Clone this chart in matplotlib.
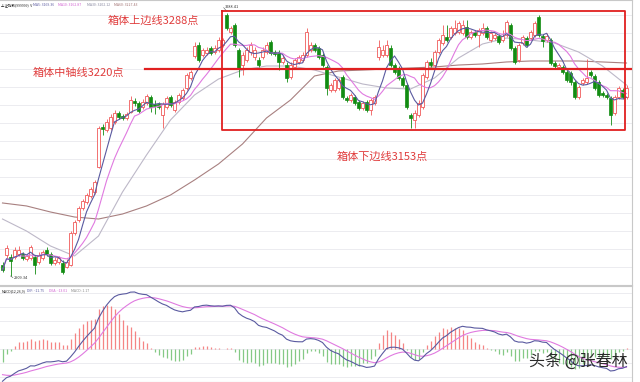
import numpy as np
import pandas as pd
import matplotlib
matplotlib.use("Agg")
import matplotlib.pyplot as plt
from matplotlib.patches import Rectangle

plt.rcParams['font.family'] = ['Noto Sans CJK SC', 'DejaVu Sans']

# ---------------- data (Shanghai Composite daily candles) ----------------
opens = [2925,2940,2937,2937,2941,2941,2934,2935,2937,2929,2935,2947,2941,2928,2929,2928,2922,2925,2971,2990,
         3007,3016,3025,3030,3066,3124,3120,3123,3131,3144,3140,3137,3146,3161,3159,3153,3159,3167,3157,3157,
         3141,3153,3167,3148,3160,3166,3180,3195,3226,3242,3228,3231,3238,3232,3235,3242,3286,3261,3271,3235,
         3213,3221,3232,3225,3221,3225,3232,3246,3232,3231,3218,3213,3196,3210,3218,3221,3228,3235,3242,3238,
         3228,3210,3177,3177,3180,3196,3166,3163,3167,3160,3151,3160,3148,3159,3225,3228,3228,3238,3213,3209,
         3195,3185,3141,3134,3141,3153,3196,3218,3213,3232,3245,3254,3254,3259,3261,3259,3268,3254,3261,3257,
         3259,3267,3249,3252,3255,3249,3257,3271,3238,3221,3245,3252,3252,3257,3283,3255,3249,3249,3216,3210,
         3210,3203,3202,3189,3167,3187,3189,3203,3197,3189,3173,3170,3166,3144,3167,3177,3167]
closes = [2918,2950,2931,2947,2947,2935,2938,2951,2925,2940,2944,2941,2928,2932,2935,2915,2929,2971,2987,3007,
          3017,3026,3035,3045,3123,3121,3131,3138,3144,3138,3137,3143,3163,3159,3147,3160,3169,3153,3154,3153,
          3157,3166,3156,3160,3170,3177,3199,3203,3241,3221,3235,3235,3231,3238,3249,3249,3267,3267,3242,3209,
          3228,3235,3242,3235,3213,3235,3242,3231,3229,3218,3223,3195,3213,3221,3225,3228,3261,3242,3235,3225,
          3213,3180,3185,3192,3192,3167,3163,3170,3159,3151,3159,3148,3163,3167,3239,3235,3242,3213,3203,3195,
          3185,3153,3137,3144,3159,3199,3218,3213,3232,3249,3257,3249,3267,3267,3274,3271,3254,3261,3257,3264,
          3267,3254,3259,3257,3246,3255,3275,3238,3218,3242,3254,3242,3261,3274,3257,3248,3255,3216,3212,3213,
          3203,3192,3189,3167,3182,3192,3195,3199,3180,3170,3170,3167,3141,3167,3180,3167,3180]
highs = [2929,2954,2941,2951,2952,2944,2941,2954,2940,2944,2947,2951,2944,2937,2938,2932,2934,2974,2990,3010,
         3020,3029,3038,3048,3125,3128,3136,3143,3148,3147,3143,3146,3169,3166,3161,3164,3172,3170,3163,3160,
         3160,3169,3170,3163,3173,3180,3202,3206,3246,3246,3238,3239,3241,3242,3254,3252,3288.41,3270,3274,3238,
         3232,3239,3246,3239,3225,3239,3246,3249,3235,3235,3228,3218,3218,3223,3228,3232,3267,3246,3245,3241,
         3231,3213,3187,3195,3195,3199,3169,3173,3170,3163,3161,3163,3166,3170,3249,3242,3249,3242,3216,3212,
         3197,3187,3144,3148,3163,3202,3221,3223,3235,3252,3271,3271,3270,3278,3277,3278,3278,3264,3264,3267,
         3274,3270,3262,3259,3258,3264,3278,3274,3241,3245,3257,3255,3264,3277,3285,3258,3259,3252,3219,3216,
         3213,3206,3205,3192,3185,3195,3222,3206,3200,3192,3176,3173,3169,3170,3183,3180,3185]
lows = [2915,2935,2909.34,2934,2938,2932,2931,2932,2912,2927,2932,2938,2925,2925,2927,2912,2921,2924,2968,2987,
        3004,3013,3022,3027,3065,3113,3117,3120,3128,3136,3134,3134,3144,3154,3144,3150,3156,3146,3143,3150,
        3123,3150,3153,3146,3157,3163,3177,3192,3223,3218,3225,3228,3228,3229,3232,3239,3264,3258,3239,3196,
        3199,3218,3228,3221,3210,3222,3229,3228,3226,3206,3215,3189,3193,3208,3215,3218,3225,3232,3232,3222,
        3210,3170,3174,3174,3177,3164,3160,3160,3156,3148,3148,3146,3141,3156,3221,3225,3225,3210,3200,3192,
        3182,3150,3123,3123,3138,3150,3193,3210,3210,3229,3242,3246,3251,3257,3258,3257,3251,3251,3254,3239,
        3257,3251,3246,3249,3244,3246,3254,3235,3215,3218,3242,3239,3249,3254,3254,3239,3246,3213,3209,3208,
        3200,3189,3185,3164,3164,3185,3186,3196,3177,3167,3167,3164,3127,3141,3164,3164,3164]

# slow moving averages, every 6th session
slow_idx = list(range(0, 157, 6))
ma30_vals = [2991.4,2974.1,2952.5,2938.1,2966.9,3030.3,3083.6,3134.1,3170.1,3193.1,3206.1,3211.9,3211.9,3206.1,
             3196.0,3186.0,3180.2,3178.7,3194.6,3223.4,3243.6,3252.2,3249.4,3245.0,3232.1,3211.9,3184.5]
ma60_vals = [3014.5,3010.2,3001.5,2994.3,2991.4,2998.6,3010.2,3026.0,3047.6,3070.7,3099.5,3137.0,3162.9,3197.5,
             3204.7,3206.1,3207.6,3209.0,3210.5,3213.3,3214.8,3217.7,3219.1,3219.1,3219.1,3217.7,3216.2]

# MACD state before the first visible session
seed_ema12 = 2940.0
seed_ema26 = 2970.0
seed_dea = -22.0

# box annotation (hand drawn on chart)
box_top, box_mid, box_bot = 3291.2, 3207.6, 3119.7
label_top, label_mid, label_bot = "箱体上边线3288点", "箱体中轴线3220点", "箱体下边线3153点"
hi_label, lo_label = "3288.41", "2909.34"

# ---------------- derived ----------------
o = np.array(opens, float); c = np.array(closes, float)
h = np.array(highs, float); l = np.array(lows, float)
n = len(c)
x = np.arange(n)
ma5 = pd.Series(c).rolling(5, min_periods=1).mean().values
ma10 = pd.Series(c).rolling(10, min_periods=1).mean().values

e12, e26, dea = seed_ema12, seed_ema26, seed_dea
dif_l, dea_l = [], []
for v in c:
    e12 = e12 * 11 / 13 + v * 2 / 13
    e26 = e26 * 25 / 27 + v * 2 / 27
    d = e12 - e26
    dea = dea * 8 / 10 + d * 2 / 10
    dif_l.append(d); dea_l.append(dea)
dif = np.array(dif_l); deaa = np.array(dea_l)
hist = 2 * (dif - deaa)

# ---------------- figure ----------------
fig = plt.figure(figsize=(6.4, 3.82), dpi=100)
fig.patch.set_facecolor('white')
ax = fig.add_axes([0, 1 - 285 / 382, 632 / 640, 285 / 382])
ax2 = fig.add_axes([0, 0, 632 / 640, 96 / 382])

xl = (-0.625, 157.375)
ylo, yhi = 2896.3, 3307.0
for a in (ax, ax2):
    a.set_xlim(*xl)
    a.set_xticks([])
    a.tick_params(left=False, labelleft=False, bottom=False)
    for s in a.spines.values():
        s.set_color('#c8c8c8'); s.set_linewidth(0.8)
    a.spines['left'].set_visible(False)
ax.set_ylim(ylo, yhi)

# grid
for gy in np.arange(3285.4, ylo, -25.95):
    ax.axhline(gy, color='#ececf0', lw=0.7, zorder=0)

RED = '#f05a5a'
GREEN = '#128c12'
w = 0.72
for i in range(n):
    up = c[i] >= o[i]
    col = RED if up else GREEN
    ax.vlines(x[i], l[i], h[i], color=col, lw=0.6, zorder=2)
    bot = min(o[i], c[i]); ht = max(abs(c[i] - o[i]), 0.8)
    if up:
        ax.add_patch(Rectangle((x[i] - w / 2, bot), w, ht, facecolor='white', edgecolor=RED, lw=0.6, zorder=3))
    else:
        ax.add_patch(Rectangle((x[i] - w / 2, bot), w, ht, facecolor=GREEN, edgecolor=GREEN, lw=0.5, zorder=3))

ax.plot(slow_idx, ma60_vals, color='#a88080', lw=0.8, zorder=1)
ax.plot(slow_idx, ma30_vals, color='#bdb8c8', lw=0.8, zorder=1)
ax.plot(x, ma10, color='#e07ae0', lw=0.8, zorder=4)
ax.plot(x, ma5, color='#5a5aa0', lw=0.8, zorder=4)

# box
BOX = '#e02020'
ax.plot([54.9, 155.6, 155.6, 54.9, 54.9], [box_top, box_top, box_bot, box_bot, box_top], color=BOX, lw=1.3, zorder=5)
ax.plot([35.6, 157.0], [box_mid, box_mid], color=BOX, lw=1.6, zorder=5)

ax.text(26.3, 3277, label_top, color='#e03c3c', fontsize=8, ha='left', va='center', zorder=6)
ax.text(7.6, 3202, label_mid, color='#e03c3c', fontsize=8, ha='left', va='center', zorder=6)
ax.text(83.6, 3081, label_bot, color='#e03c3c', fontsize=8, ha='left', va='center', zorder=6)

ax.plot([55.3, 56.0], [3296, 3291], color='#555555', lw=0.4)
ax.text(55.6, 3297, hi_label, color='#333333', fontsize=2.8, ha='left', va='center')
ax.plot([2.0, 2.6], [2909.34, 2907], color='#555555', lw=0.4)
ax.text(2.8, 2907, lo_label, color='#333333', fontsize=2.8, ha='left', va='center')

# header
hdr = [("上证指数(999999)  V", '#222222', 0.000), ("MA5: 3169.36", '#5a5aa0', 0.050),
       ("MA10: 3162.87", '#d060d0', 0.090), ("MA30: 3202.12", '#8888a0', 0.135),
       ("MA60: 3227.43", '#a07070', 0.178)]
for s, col, xp in hdr:
    ax.text(xp + 0.002, 0.99, s, transform=ax.transAxes, fontsize=2.5, color=col, va='top')

# MACD
pk = dif.max()
ax2.set_ylim(-0.579 * pk, 1.105 * pk)
for k in range(-2, 5):
    ax2.axhline(k * 0.2456 * pk, color='#ececf0', lw=0.7, zorder=0)
pos = hist >= 0
ax2.vlines(x[pos], 0, hist[pos], color='#f25c5c', lw=0.9, alpha=0.75, zorder=2)
ax2.vlines(x[~pos], 0, hist[~pos], color='#5cb85c', lw=0.9, alpha=0.75, zorder=2)
ax2.plot(x, deaa, color='#e07ae0', lw=0.8, zorder=3)
ax2.plot(x, dif, color='#5a5aa0', lw=0.8, zorder=3)
mh = [("MACD(12,26,9)", '#222222', 0.000), ("DIF: -11.75", '#5a5aa0', 0.040),
      ("DEA: -13.01", '#d060d0', 0.075), ("MACD: 1.17", '#888888', 0.110)]
for s, col, xp in mh:
    ax2.text(xp + 0.002, 0.97, s, transform=ax2.transAxes, fontsize=2.5, color=col, va='top')

fig.text(628 / 640, 1 - 361 / 382, "头条 @张春林", fontsize=11.5, color='#2a2a2a', ha='right', va='center')

fig.savefig('out.png', dpi=100, facecolor='white')
